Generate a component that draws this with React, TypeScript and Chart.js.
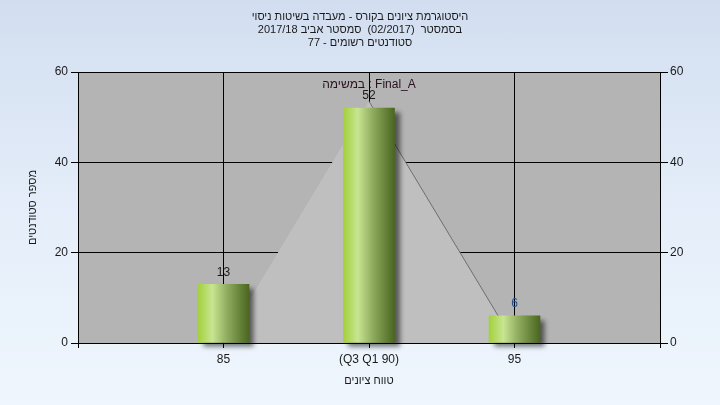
import { useEffect, useRef } from 'react';
import { Chart, registerables } from 'chart.js';

Chart.register(...registerables);

// ---- data ----
const categories = ['', '85', '(Q3 Q1 90)', '95', ''];
const studentCounts: (number | null)[] = [null, 13, 52, 6, null];
const distributionShape: (number | null)[] = [null, 0, 53.5, 0, null];
const yTickValues = [0, 20, 40, 60];
const titleLines = [
  'היסטוגרמת ציונים בקורס - מעבדה בשיטות ניסוי',
  'בסמסטר  (02/2017)  סמסטר אביב 2017/18',
  'סטודנטים רשומים - 77',
];
const seriesName = 'במשימה : Final_A';
const xAxisTitle = 'טווח ציונים';
const yAxisTitle = 'מספר סטודנטים';

const FONT = "'Liberation Sans', Arial, 'DejaVu Sans', sans-serif";
const TEXT = '#1a1a1a';

export default function App() {
  const ref = useRef<HTMLCanvasElement | null>(null);

  useEffect(() => {
    const canvas = ref.current;
    if (!canvas) return;

    const plotBg = {
      id: 'plotBg',
      beforeDraw(chart: any) {
        const { ctx, chartArea: a } = chart;
        ctx.save();
        ctx.fillStyle = '#b4b4b4';
        ctx.fillRect(a.left, a.top, a.right - a.left, a.bottom - a.top);
        ctx.restore();
      },
    };

    const barShadow = {
      id: 'barShadow',
      beforeDatasetDraw(chart: any, args: any) {
        if (args.index !== 0) return;
        const ctx = chart.ctx;
        ctx.save();
        ctx.shadowColor = 'rgba(0,0,0,0.55)';
        ctx.shadowBlur = 5;
        ctx.shadowOffsetX = 5;
        ctx.shadowOffsetY = 4;
      },
      afterDatasetDraw(chart: any, args: any) {
        if (args.index !== 0) return;
        chart.ctx.restore();
      },
    };

    const labelColors = ['#000', '#1a1a1a', '#1a1a1a', '#1f4f8f', '#000'];
    const barLabels = {
      id: 'barLabels',
      afterDatasetsDraw(chart: any) {
        const ctx = chart.ctx;
        const meta = chart.getDatasetMeta(0);
        ctx.save();
        ctx.font = `12px ${FONT}`;
        ctx.textAlign = 'center';
        ctx.textBaseline = 'middle';
        meta.data.forEach((el: any, i: number) => {
          const v = studentCounts[i];
          if (v == null) return;
          ctx.fillStyle = labelColors[i];
          ctx.fillText(String(v), el.x, el.y - 12);
        });
        ctx.fillStyle = '#2a1020';
        ctx.fillText(seriesName, chart.scales.x.getPixelForValue(2), chart.chartArea.top + 13);
        ctx.restore();
      },
    };

    const chart = new Chart(canvas, {
      type: 'bar',
      data: {
        labels: categories,
        datasets: [
          {
            type: 'bar',
            data: studentCounts as any,
            barThickness: 51,
            order: 1,
            clip: false as any,
            backgroundColor: (c: any) => {
              const ch = c.chart;
              const xs = ch.scales && ch.scales.x;
              if (!xs || c.dataIndex == null) return '#a6d244';
              const cx = xs.getPixelForValue(c.dataIndex);
              if (!isFinite(cx)) return '#a6d244';
              const g = ch.ctx.createLinearGradient(cx - 25.5, 0, cx + 25.5, 0);
              g.addColorStop(0, '#a3d03c');
              g.addColorStop(0.28, '#c8e592');
              g.addColorStop(0.6, '#8aa75a');
              g.addColorStop(1, '#4a6620');
              return g;
            },
            borderWidth: 0,
          },
          {
            type: 'line',
            data: distributionShape as any,
            order: 2,
            fill: 'origin',
            backgroundColor: '#bfbfbf',
            borderWidth: 1,
            pointRadius: 0,
            tension: 0,
            segment: {
              borderColor: (s: any) => (s.p0DataIndex === 2 ? '#6e6e6e' : 'rgba(0,0,0,0)'),
            },
          } as any,
        ],
      },
      options: {
        responsive: false,
        animation: false,
        devicePixelRatio: 1,
        layout: { padding: 0 },
        plugins: {
          legend: { display: false },
          tooltip: { enabled: false },
          title: {
            display: true,
            text: titleLines,
            color: TEXT,
            font: { family: FONT, size: 11, weight: 'normal', lineHeight: '13px' } as any,
            padding: { top: 10, bottom: 23 },
          },
        },
        scales: {
          x: {
            type: 'category',
            offset: false,
            grid: { color: '#000', lineWidth: 1, tickLength: 5, tickColor: '#000', offset: false },
            border: { display: true, color: '#000', width: 1, z: 1 } as any,
            ticks: {
              color: TEXT,
              font: { family: FONT, size: 12 },
              padding: 4,
              autoSkip: false,
              maxRotation: 0,
            },
            title: {
              display: true,
              text: xAxisTitle,
              color: TEXT,
              font: { family: FONT, size: 11 },
              padding: { top: 0, bottom: 17.4 },
            },
            afterFit: (s: any) => {
              s.height = 62;
            },
          },
          y: {
            type: 'linear',
            position: 'left',
            min: 0,
            max: 60,
            afterBuildTicks: (s: any) => {
              s.ticks = yTickValues.map((v) => ({ value: v }));
            },
            grid: { color: '#000', lineWidth: 1, tickLength: 7, tickColor: '#000' },
            border: { display: true, color: '#000', width: 1, z: 1 } as any,
            ticks: { color: TEXT, font: { family: FONT, size: 12 }, padding: 3 },
            title: {
              display: true,
              text: yAxisTitle,
              color: TEXT,
              font: { family: FONT, size: 11 },
              padding: { top: 26.4, bottom: 0 },
            },
            afterFit: (s: any) => {
              s.width = 78;
            },
          },
          y2: {
            type: 'linear',
            position: 'right',
            min: 0,
            max: 60,
            afterBuildTicks: (s: any) => {
              s.ticks = yTickValues.map((v) => ({ value: v }));
            },
            grid: { drawOnChartArea: false, color: '#000', tickLength: 8, tickColor: '#000' },
            border: { display: true, color: '#000', width: 1, z: 1 } as any,
            ticks: { color: TEXT, font: { family: FONT, size: 12 }, padding: 2 },
            afterFit: (s: any) => {
              s.width = 60;
            },
          },
        },
      },
      plugins: [plotBg, barShadow, barLabels],
    } as any);

    return () => chart.destroy();
  }, []);

  return (
    <div
      style={{
        position: 'fixed',
        left: 0,
        top: 0,
        width: 720,
        height: 405,
        background: 'linear-gradient(to bottom, #d2def0 0%, #e4edf9 50%, #eff6fd 100%)',
      }}
    >
      <canvas ref={ref} width={720} height={405} style={{ display: 'block', width: 720, height: 405 }} />
    </div>
  );
}
